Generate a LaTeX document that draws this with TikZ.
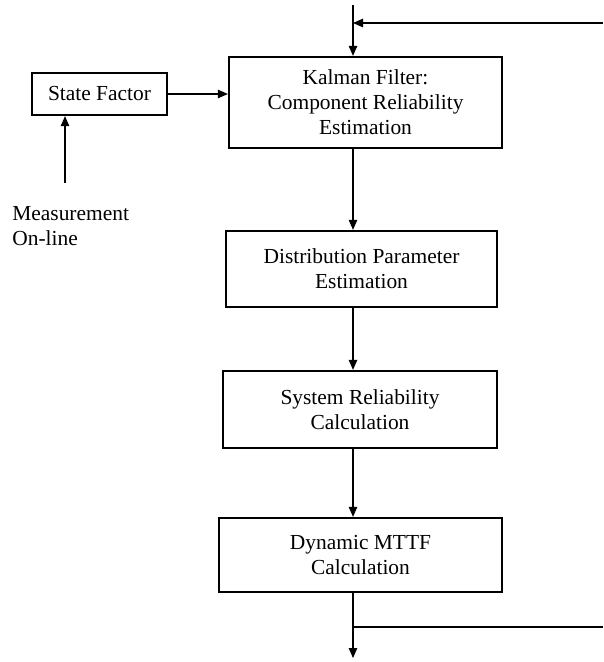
\documentclass[tikz,border=0pt]{standalone}
\usepackage{fontspec}
\setmainfont{Liberation Serif}
\usepackage{tikz}
\usetikzlibrary{positioning, arrows.meta, calc}

\begin{document}
\begin{tikzpicture}[x=0.02cm, y=-0.02cm,
          blk/.style={rectangle, draw, line width=1.3pt, align=center,
                      inner sep=2pt, font=\fontsize{12.2}{14.2}\selectfont},
          arr/.style={-{Triangle[length=0.2cm, width=0.17cm]}, line width=0.6pt},
          lnk/.style={line width=0.6pt}
        ]
        \useasboundingbox (0,0) rectangle (603,662);

        % Main column, top to bottom
        \node[blk, minimum width=5.46cm, minimum height=1.82cm] (kal) at (365.5, 102.5)
              {Kalman Filter:\\Component Reliability\\Estimation};
        \node[blk, minimum width=5.42cm, minimum height=1.52cm] (dist) at (361.5, 269)
              {Distribution Parameter\\Estimation};
        \node[blk, minimum width=5.48cm, minimum height=1.54cm] (sys) at (360, 409.5)
              {System Reliability\\Calculation};
        \node[blk, minimum width=5.66cm, minimum height=1.48cm] (mttf) at (360.5, 555)
              {Dynamic MTTF\\Calculation};

        % State factor and measurement input
        \node[blk, minimum width=2.70cm, minimum height=0.84cm] (sf) at (99.5, 94)
              {State Factor};
        \node[anchor=north west, inner sep=0pt, align=left,
              font=\fontsize{12.2}{14.2}\selectfont] (meas) at (12, 206)
              {Measurement\\On-line};
        \coordinate (msrc) at (65, 183);

        % Column of arrows
        \coordinate (col)  at (353, 0);
        \coordinate (top)  at (353, 5);
        \coordinate (fbin) at (603, 23);
        \coordinate (fbat) at (353, 23);
        \coordinate (out)  at (353, 658);
        \coordinate (fbtap) at (353, 627);
        \coordinate (fbout) at (603, 627);

        \draw[arr] (top) -- (kal.north -| col);
        \draw[arr] (fbin) -- (fbat);
        \draw[arr] (sf.east) -- (sf.east -| kal.west);
        \draw[arr] (msrc) -- (msrc |- sf.south);
        \draw[arr] (kal.south -| col) -- (dist.north -| col);
        \draw[arr] (dist.south -| col) -- (sys.north -| col);
        \draw[arr] (sys.south -| col) -- (mttf.north -| col);
        \draw[arr] (mttf.south -| col) -- (out);
        \draw[lnk] (fbtap) -- (fbout);
      \end{tikzpicture}
\end{document}
